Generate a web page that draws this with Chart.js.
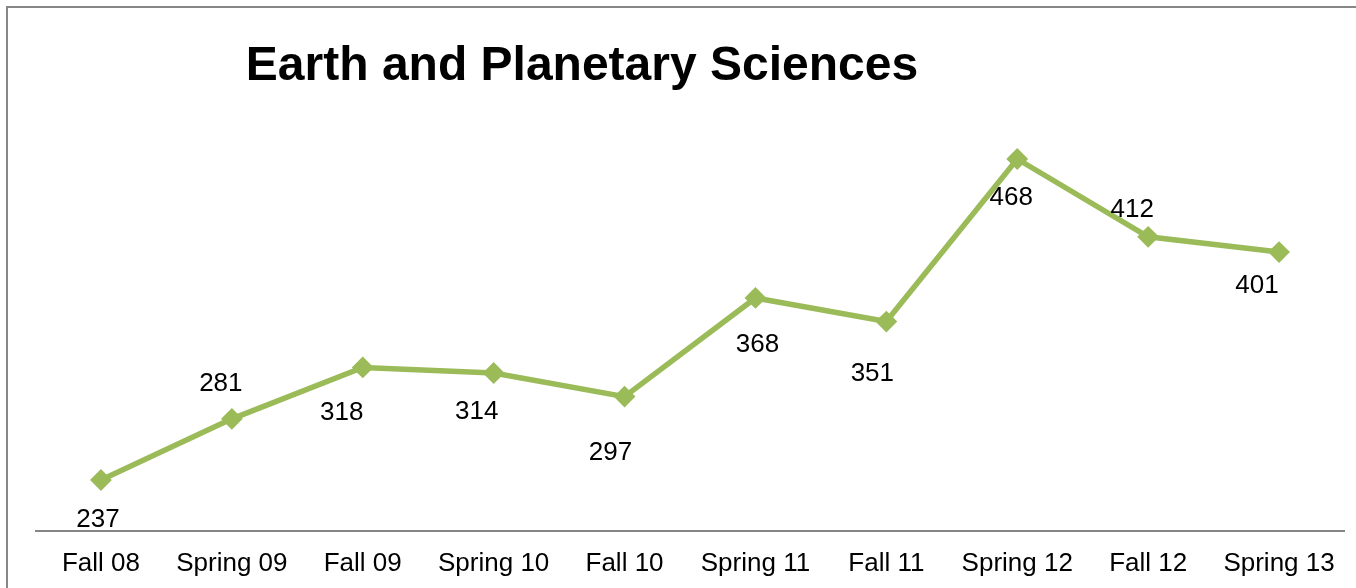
<!DOCTYPE html>
<html>
<head>
<meta charset="utf-8">
<script src="https://cdn.jsdelivr.net/npm/chart.js@4"></script>
<style>
    html, body { margin: 0; padding: 0; background: #fff; overflow: hidden; }
    #frame {
        position: absolute; left: 6px; top: 6px; width: 1400px; height: 700px;
        border-left: 2px solid #878787; border-top: 2px solid #878787;
    }
    #chart1 { position: absolute; left: 0; top: 0; }
</style>
</head>
<body>
<div id="frame"></div>
<canvas id="chart1" width="1356" height="588"></canvas>
<script>
const semesters = ["Fall 08","Spring 09","Fall 09","Spring 10","Fall 10","Spring 11","Fall 11","Spring 12","Fall 12","Spring 13"];
const enrolment = [237,281,318,314,297,368,351,468,412,401];
const chartTitle = "Earth and Planetary Sciences";

// where each value label sits relative to its point (as placed in the original)
const labelShiftX = [-3,-11,-21,-17,-14,2,-14,-6,-16,-22];
const labelShiftY = [38,-37,43,37,54,45,50,37,-29,32];

Chart.defaults.font.family = "'Liberation Sans', Arial, sans-serif";

const titlePlugin = {
    id: "titleText",
    afterDraw(chart) {
        const ctx = chart.ctx;
        ctx.save();
        ctx.font = "bold 48px 'Liberation Sans', Arial, sans-serif";
        ctx.fillStyle = "#000";
        ctx.textAlign = "center";
        ctx.textBaseline = "alphabetic";
        ctx.fillText(chartTitle, 582, 80);
        ctx.restore();
    }
};

const valueLabels = {
    id: "valueLabels",
    afterDatasetsDraw(chart) {
        const ctx = chart.ctx;
        const meta = chart.getDatasetMeta(0);
        ctx.save();
        ctx.font = "26px 'Liberation Sans', Arial, sans-serif";
        ctx.fillStyle = "#000";
        ctx.textAlign = "center";
        ctx.textBaseline = "alphabetic";
        meta.data.forEach((pt, i) => {
            ctx.fillText(String(enrolment[i]), pt.x + labelShiftX[i], pt.y + labelShiftY[i] + 9.3);
        });
        ctx.restore();
    }
};

const chart1 = document.getElementById("chart1");

const lineChart = new Chart(chart1, {
    type: "line",
    data: {
        labels: semesters,
        datasets: [{
            data: enrolment,
            borderColor: "#9BBB59",
            backgroundColor: "#9BBB59",
            borderWidth: 5.5,
            tension: 0,
            pointStyle: "rectRot",
            pointRadius: 9.5,
            pointBorderWidth: 2,
            pointBackgroundColor: "#9BBB59",
            pointBorderColor: "#9BBB59",
            clip: false
        }]
    },
    options: {
        responsive: false,
        animation: false,
        devicePixelRatio: 1,
        layout: {
            padding: { left: 35.5, right: 9.5, top: 114.5, bottom: 0 }
        },
        plugins: {
            legend: { display: false },
            title: { display: false },
            tooltip: { enabled: false }
        },
        scales: {
            x: {
                offset: true,
                grid: { display: false, drawTicks: false },
                border: { display: true, color: "#868686", width: 2 },
                ticks: {
                    color: "#000",
                    padding: 17,
                    font: { size: 26 }
                },
                afterFit(scale) { scale.height = 56.6; }
            },
            y: {
                display: false,
                min: 200,
                max: 500
            }
        }
    },
    plugins: [titlePlugin, valueLabels]
});
</script>
</body>
</html>
